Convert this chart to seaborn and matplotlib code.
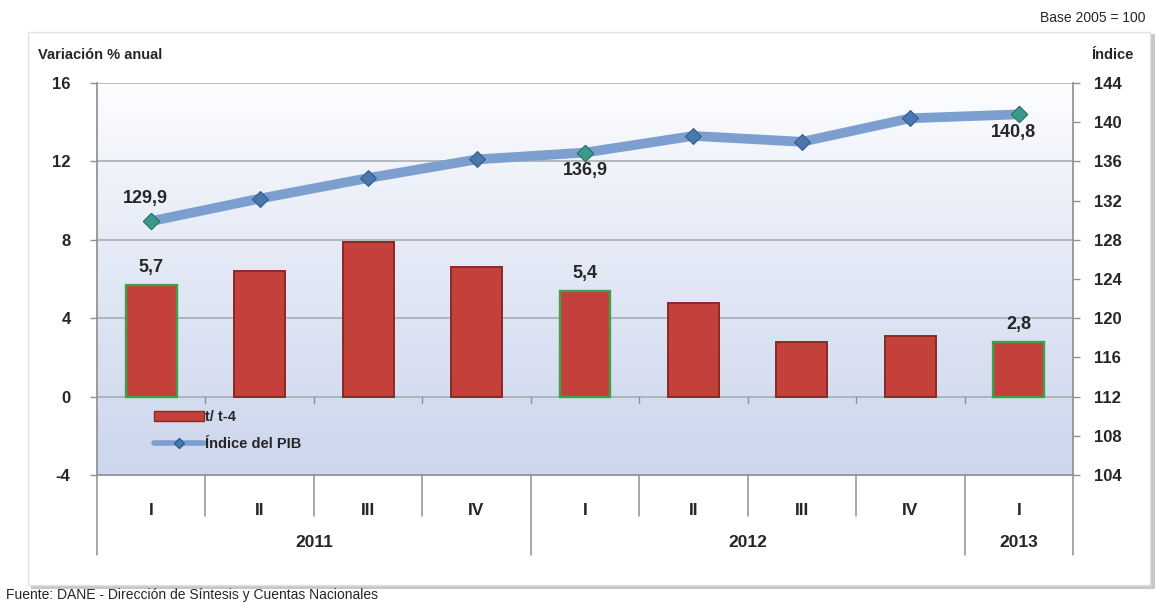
import numpy as np
import pandas as pd
import matplotlib
matplotlib.use("Agg")
import matplotlib.pyplot as plt
import matplotlib.transforms as mtransforms
from matplotlib.lines import Line2D
from matplotlib.patches import Patch, Rectangle
import seaborn as sns

# ---- data ----
periodos = ["2011-I", "2011-II", "2011-III", "2011-IV",
            "2012-I", "2012-II", "2012-III", "2012-IV", "2013-I"]
trimestres = ["I", "II", "III", "IV", "I", "II", "III", "IV", "I"]
anios = ["2011", "2012", "2013"]
anio_trimestres = [4, 4, 1]
variacion = [5.7, 6.4, 7.9, 6.6, 5.4, 4.8, 2.8, 3.1, 2.8]
indice = [129.9, 132.2, 134.3, 136.2, 136.9, 138.6, 138.0, 140.4, 140.8]
destacados = [0, 4, 8]
etiq_var = ["5,7", "5,4", "2,8"]
etiq_ind = ["129,9", "136,9", "140,8"]
left_ticks = [-4, 0, 4, 8, 12, 16]
right_ticks = [104, 108, 112, 116, 120, 124, 128, 132, 136, 140, 144]

sns.set_theme(style="white")
plt.rcParams['font.family'] = ['Liberation Sans', 'DejaVu Sans']

df = pd.DataFrame({"periodo": periodos, "variacion": variacion,
                   "pos": np.arange(len(periodos)), "indice": indice})

W, H = 1155, 606
fig = plt.figure(figsize=(W / 100, H / 100), dpi=100)
fig.patch.set_facecolor("white")

# outer frame with shadow
fig.patches.append(Rectangle((31 / W, 1 - 589 / H), 1124 / W, 555 / H,
                             transform=fig.transFigure, facecolor="#c8c8c8",
                             edgecolor="none", zorder=-2))
fig.patches.append(Rectangle((28 / W, 1 - 585 / H), 1122 / W, 553 / H,
                             transform=fig.transFigure, facecolor="white",
                             edgecolor="#e2e2e2", linewidth=1, zorder=-1))

x0, x1, y0, y1 = 97, 1073, 83, 475
ax = fig.add_axes([x0 / W, 1 - y1 / H, (x1 - x0) / W, (y1 - y0) / H])
ax.set_facecolor("none")

# gradient background (white at top -> light blue at bottom)
grad = np.linspace(0, 1, 256).reshape(-1, 1, 1) ** 0.8
top_c = np.array([1.0, 1.0, 1.0]).reshape(1, 1, 3)
bot_c = np.array([0.80, 0.84, 0.93]).reshape(1, 1, 3)
img = top_c * (1 - grad) + bot_c * grad
ax.imshow(img, extent=[0, 1, 0, 1], transform=ax.transAxes, aspect="auto",
          zorder=0, origin="upper")

sns.barplot(data=df, x="periodo", y="variacion", ax=ax, color="#c4403a",
            width=0.47, saturation=1, zorder=3)
for i, p in enumerate(ax.patches):
    if i in destacados:
        p.set_edgecolor("#3f9f4a")
        p.set_linewidth(1.7)
    else:
        p.set_edgecolor("#8a2924")
        p.set_linewidth(1.4)

ax.set_ylim(-4, 16)
ax.set_xlim(-0.5, len(periodos) - 0.5)
ax.set_yticks(left_ticks)
ax.set_yticklabels([str(t) for t in left_ticks], fontsize=12, fontweight="bold")
for t in [0, 4, 8, 12, 16]:
    ax.axhline(t, color="#a5a8ad", linewidth=1.1, zorder=1)
ax.tick_params(axis="y", which="major", length=5, width=1, color="#909090",
               left=True, direction="out", pad=14)
ax.set_xticks(range(len(periodos)))
ax.set_xticklabels(trimestres, fontsize=12.5, fontweight="bold")
ax.tick_params(axis="x", length=0, pad=20)
ax.set_xlabel("")
ax.set_ylabel("")
for s in ["top", "right"]:
    ax.spines[s].set_visible(False)
ax.spines["left"].set_color("#909090")
ax.spines["bottom"].set_color("#909090")

# small ticks on zero line at category boundaries
for b in np.arange(0.5, len(periodos) - 0.5, 1):
    ax.plot([b, b], [0, -0.35], color="#909090", lw=1, zorder=2)

# category separators below axis
trans = mtransforms.blended_transform_factory(ax.transData, ax.transAxes)
bounds = np.arange(-0.5, len(periodos), 1)
year_bounds = np.concatenate([[-0.5], np.cumsum(anio_trimestres) - 0.5])
for b in bounds:
    depth = -0.205 if np.any(np.isclose(b, year_bounds)) else -0.105
    ax.plot([b, b], [0, depth], transform=trans, color="#909090", lw=1.1,
            clip_on=False)
start = -0.5
for yr, n in zip(anios, anio_trimestres):
    ax.text(start + n / 2, -0.173, yr, transform=trans, ha="center", va="center",
            fontsize=12.5, fontweight="bold")
    start += n

# right axis with index line
ax2 = ax.twinx()
sns.lineplot(data=df, x="pos", y="indice", ax=ax2, color="#7c9fcf", linewidth=7,
             marker="D", markersize=8, markerfacecolor="#4a77ad",
             markeredgecolor="#2f5a8c", zorder=4)
sub = df.iloc[destacados]
sns.scatterplot(data=sub, x="pos", y="indice", ax=ax2, marker="D", s=70,
                color="#3a9a8a", edgecolor="#2a6f63", zorder=5)
ax2.set_ylim(104, 144)
ax2.set_yticks(right_ticks)
ax2.set_yticklabels([str(t) for t in right_ticks], fontsize=12, fontweight="bold")
ax2.tick_params(axis="y", length=5, width=1, color="#909090", right=True,
                direction="out", pad=10)
ax2.set_xlabel("")
ax2.set_ylabel("")
for s in ["top", "left", "bottom"]:
    ax2.spines[s].set_visible(False)
ax2.spines["right"].set_color("#909090")
ax2.grid(False)

# data labels
for k, i in enumerate(destacados):
    ax.text(i, variacion[i] + 0.45, etiq_var[k], ha="center", va="bottom",
            fontsize=13, fontweight="bold", zorder=6)
ax2.text(destacados[0] - 0.05, indice[destacados[0]] + 1.4, etiq_ind[0],
         ha="center", va="bottom", fontsize=13, fontweight="bold")
ax2.text(destacados[1], indice[destacados[1]] - 1.0, etiq_ind[1],
         ha="center", va="top", fontsize=13, fontweight="bold")
ax2.text(destacados[2] - 0.05, indice[destacados[2]] - 1.0, etiq_ind[2],
         ha="center", va="top", fontsize=13, fontweight="bold")

# legend
handles = [Patch(facecolor="#c4403a", edgecolor="#8a2924"),
           Line2D([0], [0], color="#7c9fcf", lw=4, marker="D", markersize=5,
                  markerfacecolor="#4a77ad", markeredgecolor="#2f5a8c")]
leg = ax2.legend(handles, ["t/ t-4", "Índice del PIB"], loc="upper left",
                 bbox_to_anchor=(0.045, 0.2), frameon=False, handlelength=3.4,
                 handletextpad=0.1, labelspacing=0.9,
                 prop={"weight": "bold", "size": 10.5})

# titles
fig.text(38 / W, 1 - 55 / H, "Variación % anual", fontsize=10.5,
         fontweight="bold", va="center", ha="left")
fig.text(1112 / W, 1 - 55 / H, "Índice", fontsize=10.5, fontweight="bold",
         va="center", ha="center")
fig.text(1146 / W, 1 - 18 / H, "Base 2005 = 100", fontsize=10, va="center",
         ha="right")
fig.text(6 / W, 1 - 595 / H, "Fuente: DANE - Dirección de Síntesis y Cuentas Nacionales",
         fontsize=10, va="center", ha="left")

fig.savefig("out.png", dpi=100)
